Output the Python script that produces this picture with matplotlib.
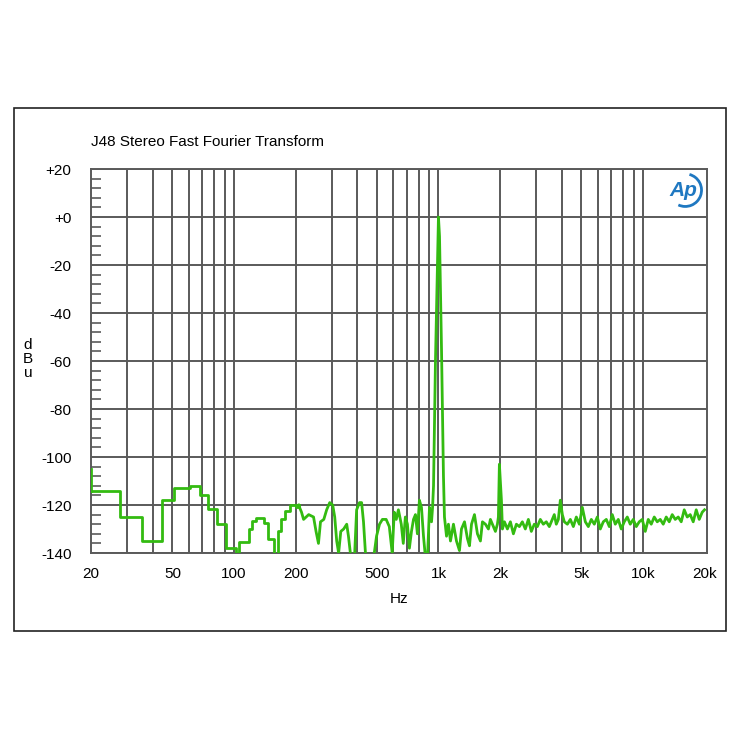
import numpy as np
import matplotlib
matplotlib.use("Agg")
import matplotlib.pyplot as plt
from matplotlib.patches import Rectangle, Arc

plt.rcParams["font.family"] = ["Liberation Sans", "DejaVu Sans"]

# low-frequency staircase (bin edges in Hz, level in dBu)
step_freq = [20, 27.7, 35.6, 44.3, 51, 61, 68, 75, 83, 91.5, 102, 106, 118, 122,
             128, 140, 147, 157, 165, 170, 178, 188, 200, 207]
step_level = [-114, -125, -135, -118, -113, -112, -116, -121.5, -128, -138, -142,
              -135.5, -130, -126.5, -125.5, -127.5, -134, -142, -131, -126, -122.5,
              -120, -121, -120]

# remaining spectrum
freq = [207, 214, 219, 232, 245, 252, 259, 265, 275, 284, 294, 304, 311, 318, 325,
        333, 344, 356, 363, 372, 389, 398, 411, 421, 430, 441, 482, 498, 515, 532,
        555, 575, 594, 608, 622, 637, 658, 673, 689, 705, 721, 738, 755, 772, 789,
        807, 826, 845, 864, 884, 904, 925, 936, 946, 957, 967, 989, 1000, 1012, 1023,
        1035, 1046, 1058,
        1070, 1095, 1119, 1145, 1184, 1225, 1267, 1296, 1341, 1386, 1418, 1451,
        1500, 1551, 1604, 1641, 1697, 1755, 1795, 1857, 1899, 1942, 1964, 1986,
        2032, 2055, 2102, 2174, 2248, 2325, 2405, 2487, 2572, 2660, 2752, 2846,
        2943, 3045, 3149, 3257, 3368, 3484, 3603, 3685, 3769, 3857, 3945, 4035,
        4127, 4269, 4415, 4567, 4723, 4886, 5053, 5227, 5406, 5591, 5783, 5981,
        6187, 6399, 6619, 6846, 7080, 7323, 7576, 7834, 8103, 8382, 8669, 8967,
        9275, 9593, 9922, 10263, 10617, 10980, 11357, 11747, 12150, 12567, 12999,
        13445, 13906, 14384, 14879, 15389, 15918, 16465, 17030, 17615, 18220,
        18845, 19493, 20000]
level = [-120, -123, -126, -124, -125, -131, -136, -127, -126, -122, -119, -120,
         -125, -135, -140, -131, -130, -128, -133, -141, -141, -122, -119, -119,
         -127, -142, -142, -133, -128, -126, -126, -129, -140, -123, -126, -122,
         -128, -136, -125, -128, -138, -131, -126, -124, -132, -118, -121, -133,
         -142, -142, -121, -127, -121, -112, -85, -60, -20, 0, -8, -30, -55, -80, -108,
         -125, -133,
         -128, -135, -128, -135, -139, -130, -127, -134, -137, -128, -124, -132,
         -135, -127, -128, -130, -126, -129, -131, -128, -125, -103, -118, -130,
         -127, -130, -127, -132, -128, -129, -127, -130, -126, -131, -128, -129,
         -126, -128, -127, -129, -126, -124, -128, -126, -118, -124, -127, -128,
         -126, -129, -125, -128, -121, -127, -129, -126, -128, -125, -130, -127,
         -126, -129, -124, -128, -126, -130, -127, -125, -128, -126, -129, -127,
         -126, -131, -126, -128, -125, -127, -126, -128, -125, -127, -124, -126,
         -125, -127, -122, -125, -124, -127, -122, -126, -123, -122]

xticks = [20, 50, 100, 200, 500, 1000, 2000, 5000, 10000, 20000]
xticklabels = ["20", "50", "100", "200", "500", "1k", "2k", "5k", "10k", "20k"]
grid_freqs = [30, 40, 50, 60, 70, 80, 90, 100, 200, 300, 400, 500, 600, 700, 800,
              900, 1000, 2000, 3000, 4000, 5000, 6000, 7000, 8000, 9000, 10000]
yticks = [20, 0, -20, -40, -60, -80, -100, -120, -140]
yticklabels = ["+20", "+0", "-20", "-40", "-60", "-80", "-100", "-120", "-140"]

fig = plt.figure(figsize=(7.4, 7.4), dpi=100)
fig.patches.append(Rectangle((0.019, 0.147), 0.962, 0.707, transform=fig.transFigure,
                             fill=False, edgecolor="#222222", lw=1.2))
ax = fig.add_axes([0.123, 0.2527, 0.832, 0.5189])
ax.set_xscale("log")
ax.set_xlim(20, 20500)
ax.set_ylim(-140, 20)

gc = "#5a5a5a"
for f in grid_freqs:
    ax.axvline(f, color=gc, lw=1.4, zorder=1)
for y in yticks:
    ax.axhline(y, color=gc, lw=1.4, zorder=1)
for s in ax.spines.values():
    s.set_color(gc)
    s.set_linewidth(1.4)

ax.plot([20, 20], [-105, -114], color="#33bb11", lw=2, zorder=3)
ax.step(step_freq, step_level, where="post", color="#33bb11", lw=2, zorder=3)
ax.plot(freq, level, color="#33bb11", lw=2, zorder=3)

ax.set_xticks(xticks)
ax.set_xticklabels(xticklabels, fontsize=11)
ax.xaxis.set_minor_locator(matplotlib.ticker.NullLocator())
ax.set_yticks(yticks)
ax.set_yticklabels(yticklabels, fontsize=11)
ax.set_yticks(np.arange(-136, 20, 4), minor=True)
ax.tick_params(axis="x", length=0, pad=10)
ax.tick_params(axis="y", which="major", length=0, pad=14)
ax.tick_params(axis="y", which="minor", direction="in", length=7, color=gc, width=1.2)

ax.set_xlabel("Hz", fontsize=11, labelpad=8)
fig.text(0.038, 0.515, "d\nB\nu", fontsize=11, ha="center", va="center", linespacing=1.0)
fig.text(0.123, 0.808, "J48 Stereo Fast Fourier Transform", fontsize=11, ha="left", va="center")

# Ap logo
fig.text(0.924, 0.743, "Ap", fontsize=15, style="italic", color="#1f78c1",
         ha="center", va="center", fontweight="bold")
fig.patches.append(Arc((0.926, 0.743), 0.044, 0.044, theta1=-115, theta2=75,
                       transform=fig.transFigure, color="#1f78c1", lw=2))

fig.savefig("out.png", dpi=100)
